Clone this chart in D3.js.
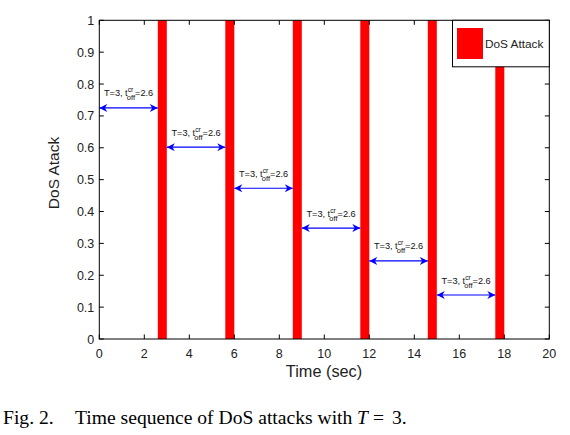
<!DOCTYPE html>
<html><head><meta charset="utf-8">
<script src="https://cdn.jsdelivr.net/npm/d3@7"></script>
<style>body{margin:0;background:#fff;} svg{display:block;}</style>
</head><body>
<svg id="c" width="570" height="435"></svg>
<script>
// Data
const attackStarts = [2.6, 5.6, 8.6, 11.6, 14.6, 17.6];
const attackEnds   = [3.0, 6.0, 9.0, 12.0, 15.0, 18.0];
const attackValue  = [1, 1, 1, 1, 1, 1];
const arrowStarts  = [0, 3, 6, 9, 12, 15];
const arrowEnds    = [2.6, 5.6, 8.6, 11.6, 14.6, 17.6];
const arrowLevels  = [0.725, 0.602, 0.473, 0.348, 0.245, 0.138];
const xTicks = [0,2,4,6,8,10,12,14,16,18,20];
const yTicks = [0,0.1,0.2,0.3,0.4,0.5,0.6,0.7,0.8,0.9,1];

const svg = d3.select("#c");
const L = 99.3, R = 549.3, T = 20.3, B = 339;
const x = d3.scaleLinear().domain([0,20]).range([L,R]);
const y = d3.scaleLinear().domain([0,1]).range([B,T]);
const font = "Liberation Sans, Arial, Helvetica, sans-serif";

// bars
svg.append("g").selectAll("rect").data(attackStarts).join("rect")
  .attr("x", (d,i)=>x(d)).attr("width",(d,i)=>x(attackEnds[i])-x(d))
  .attr("y",(d,i)=>y(attackValue[i])).attr("height",(d,i)=>y(0)-y(attackValue[i]))
  .attr("fill","#ff0000");

// arrows
const defs = svg.append("defs");
defs.append("marker").attr("id","ah").attr("viewBox","0 0 10 10").attr("refX",10).attr("refY",5)
  .attr("markerWidth",10).attr("markerHeight",8).attr("markerUnits","userSpaceOnUse").attr("orient","auto-start-reverse")
  .append("path").attr("d","M0,0 L10,5 L0,10 L3,5 Z").attr("fill","#0000ff");
const ag = svg.append("g");
arrowStarts.forEach((s,i)=>{
  const yy = y(arrowLevels[i]);
  ag.append("line").attr("x1",x(s)).attr("x2",x(arrowEnds[i])).attr("y1",yy).attr("y2",yy)
    .attr("stroke","#0000ff").attr("stroke-width",1.2)
    .attr("marker-start","url(#ah)").attr("marker-end","url(#ah)");
  const cx = (x(s)+x(arrowEnds[i]))/2;
  const t = ag.append("text").attr("x",cx).attr("y",yy-11.5).attr("text-anchor","middle")
    .attr("font-family",font).attr("font-size",9.2).attr("fill","#111");
  t.append("tspan").text("T=3, t");
  t.append("tspan").attr("font-size",6.8).attr("dy",-4).text("cr");
  t.append("tspan").attr("font-size",7.5).attr("dx",-6.5).attr("dy",8).text("off");
  t.append("tspan").attr("dy",-4).text("=2.6");
});

// axes
const tl = 4.5;
const ax = svg.append("g").attr("stroke","#000").attr("stroke-width",1).attr("fill","none");
ax.append("rect").attr("x",L).attr("y",T).attr("width",R-L).attr("height",B-T);
xTicks.forEach(v=>{
  ax.append("line").attr("x1",x(v)).attr("x2",x(v)).attr("y1",B).attr("y2",B-tl);
  ax.append("line").attr("x1",x(v)).attr("x2",x(v)).attr("y1",T).attr("y2",T+tl);
});
yTicks.forEach(v=>{
  ax.append("line").attr("x1",L).attr("x2",L+tl).attr("y1",y(v)).attr("y2",y(v));
  ax.append("line").attr("x1",R).attr("x2",R-tl).attr("y1",y(v)).attr("y2",y(v));
});
svg.append("g").selectAll("text").data(xTicks).join("text")
  .attr("x",d=>x(d)).attr("y",B+18.5).attr("text-anchor","middle")
  .attr("font-family",font).attr("font-size",12.5).attr("fill","#222").text(d=>d);
svg.append("g").selectAll("text").data(yTicks).join("text")
  .attr("x",L-5).attr("y",d=>y(d)+4.5).attr("text-anchor","end")
  .attr("font-family",font).attr("font-size",12.5).attr("fill","#222").text(d=>d);

svg.append("text").attr("x",324).attr("y",376.5).attr("text-anchor","middle")
  .attr("font-family",font).attr("font-size",16.3).attr("fill","#222").text("Time (sec)");
svg.append("text").attr("transform","translate(59,173) rotate(-90)").attr("text-anchor","middle")
  .attr("font-family",font).attr("font-size",15.5).attr("fill","#222").text("DoS Atack");

// legend
const lg = svg.append("g");
lg.append("rect").attr("x",452.5).attr("y",T).attr("width",R-452.5).attr("height",46.5)
  .attr("fill","#fff").attr("stroke","#000").attr("stroke-width",1);
lg.append("rect").attr("x",457).attr("y",28).attr("width",26).attr("height",31).attr("fill","#ff0000");
lg.append("text").attr("x",485).attr("y",48).attr("font-family",font).attr("font-size",11.8).attr("fill","#222").text("DoS Attack");

// caption
const serif = "Liberation Serif, Times New Roman, serif";
const cap = svg.append("g").attr("font-family",serif).attr("font-size",19.6).attr("fill","#000");
cap.append("text").attr("x",3).attr("y",424).text("Fig. 2.");
cap.append("text").attr("x",75).attr("y",424).text("Time sequence of DoS attacks with");
cap.append("text").attr("x",357).attr("y",424).attr("font-style","italic").text("T");
cap.append("text").attr("x",373).attr("y",424).text("=");
cap.append("text").attr("x",392).attr("y",424).text("3.");
</script>
</body></html>
